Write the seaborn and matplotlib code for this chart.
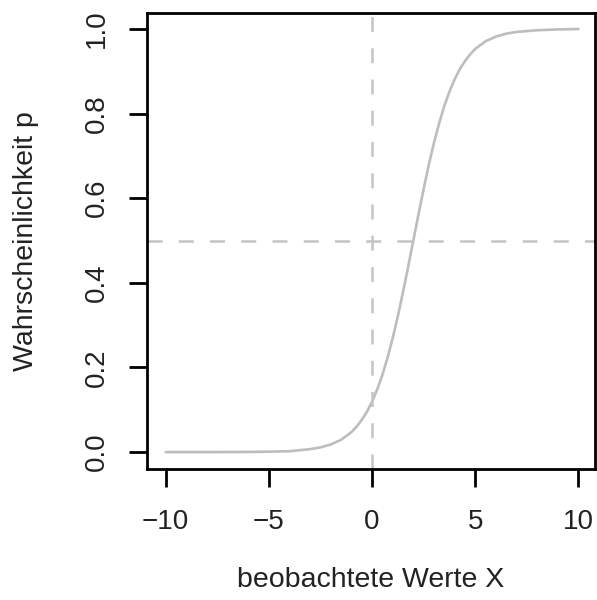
import matplotlib
matplotlib.use("Agg")
import matplotlib.pyplot as plt
import seaborn as sns
import pandas as pd

# values
x_values = [-10, -8, -6, -5, -4, -3, -2.5, -2, -1.5, -1, -0.75, -0.5, -0.25, 0,
            0.25, 0.5, 0.75, 1, 1.25, 1.5, 1.75, 2, 2.25, 2.5, 2.75, 3, 3.25,
            3.5, 3.75, 4, 4.25, 4.5, 4.75, 5, 5.5, 6, 6.5, 7, 8, 9, 10]
p_values = [0.000, 0.000, 0.0003, 0.001, 0.002, 0.007, 0.011, 0.018, 0.029,
            0.047, 0.060, 0.076, 0.095, 0.119, 0.148, 0.182, 0.223, 0.269,
            0.321, 0.378, 0.438, 0.500, 0.562, 0.622, 0.679, 0.731, 0.777,
            0.818, 0.852, 0.881, 0.905, 0.924, 0.940, 0.953, 0.971, 0.982,
            0.989, 0.993, 0.997, 0.999, 1.000]
x_ticks = [-10, -5, 0, 5, 10]
x_tick_labels = ["\u221210", "\u22125", "0", "5", "10"]
y_ticks = [0.0, 0.2, 0.4, 0.6, 0.8, 1.0]
y_tick_labels = ["0.0", "0.2", "0.4", "0.6", "0.8", "1.0"]
x_ref = 0
p_ref = 0.5

sns.set_style("white")
plt.rcParams["font.family"] = ["Liberation Sans", "DejaVu Sans"]

df = pd.DataFrame({"x": x_values, "p": p_values})

fig = plt.figure(figsize=(5.97, 6.0), dpi=100)
ax = fig.add_axes([147 / 597, 1 - 469 / 600, (595 - 147) / 597, (469 - 12.7) / 600])

sns.lineplot(data=df, x="x", y="p", ax=ax, color="#bdbdbd", linewidth=1.9)
ax.axvline(x_ref, color="#c4c4c4", linewidth=1.8, dashes=(6, 6.5))
ax.axhline(p_ref, color="#c4c4c4", linewidth=1.8, dashes=(6, 6.5))

ax.set_xlim(-10.9, 10.8)
ax.set_ylim(-0.04, 1.0385)
ax.set_xticks(x_ticks)
ax.set_xticklabels(x_tick_labels)
ax.set_yticks(y_ticks)
ax.set_yticklabels(y_tick_labels, rotation=90, va="center")

for s in ax.spines.values():
    s.set_visible(True)
    s.set_color("black")
    s.set_linewidth(2.0)

ax.tick_params(axis="both", which="major", direction="out", length=13, width=2.0,
               color="black", labelsize=20, labelcolor="#222222",
               bottom=True, left=True, top=False, right=False)
ax.tick_params(axis="x", pad=16)
ax.tick_params(axis="y", pad=14)

ax.set_xlabel("beobachtete Werte X", fontsize=20.5, color="#222222")
ax.set_ylabel("Wahrscheinlichkeit p", fontsize=20.5, color="#222222")
ax.xaxis.set_label_coords(0.5, -0.243)
ax.yaxis.set_label_coords(-0.27, 0.5)
ax.xaxis.label.set_va("center")
ax.yaxis.label.set_va("center")

fig.savefig("out.png", dpi=100)
